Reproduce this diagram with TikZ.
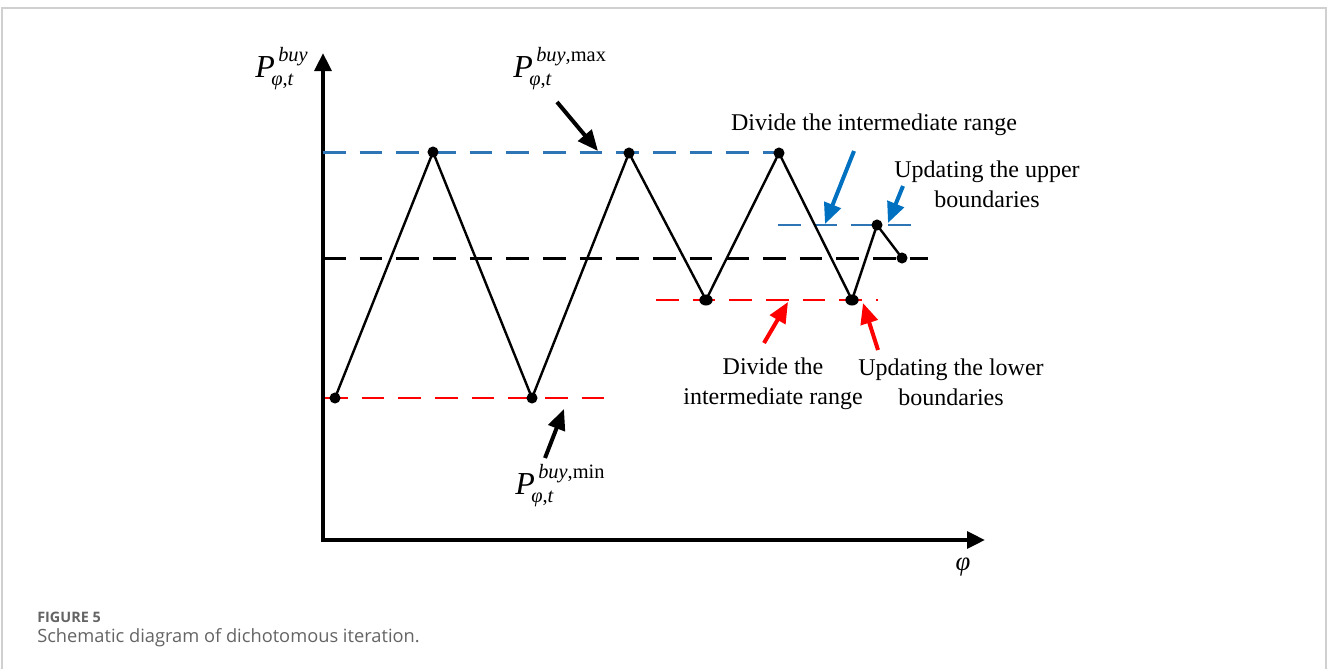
\documentclass[tikz,border=0pt]{standalone}
\usepackage{fontspec}
\setmainfont{Liberation Serif}
\newfontfamily\capfont{Open Sans}
\usetikzlibrary{arrows.meta,shapes.geometric}
\definecolor{dblue}{RGB}{46,117,182}
\definecolor{ablue}{RGB}{0,112,192}
\definecolor{capgray}{RGB}{100,100,100}
\definecolor{framegray}{RGB}{208,208,208}
\newcommand\mkPlab[1]{\textit{P}\rlap{\hspace{2.6pt}\raisebox{11.6pt}{\fontsize{15.3}{16}\selectfont #1}}\hspace{-2.6pt}\raisebox{-6pt}{\fontsize{15.3}{16}\selectfont\textit{φ},\textit{t}}}
\begin{document}
\begin{tikzpicture}[x=0.75pt,y=-0.75pt,
  dot/.style={circle,fill=black,inner sep=0pt,minimum size=8.3pt},
  odot/.style={ellipse,fill=black,inner sep=0pt,minimum width=10pt,minimum height=8.3pt},
  zig/.style={line width=1.8pt,line join=miter},
  axisline/.style={line width=3pt,{Triangle[length=13.5pt,width=12.5pt]}-{Triangle[length=13.5pt,width=12.5pt]}},
  guide/.style={line width=2pt,dash pattern=on 17pt off 10.5pt},
  ptr/.style={line width=3pt,-{Triangle[length=15.5pt,width=13pt]}},
  lab/.style={font=\fontsize{18}{22.5}\selectfont,align=center,inner sep=0pt},
  mlab/.style={font=\fontsize{24}{28}\selectfont,inner sep=0pt}]
\useasboundingbox (0,0) rectangle (1328,668);
% frame
\draw[framegray,line width=1.5pt] (2,700) -- (2,7.5) -- (1326,7.5) -- (1326,700);
% axes
\coordinate (o) at (323,540);
\coordinate (ytip) at (323,53);
\coordinate (xtip) at (985,540);
\draw[axisline] (ytip) -- (o) -- (xtip);
% guide lines
\coordinate (bt1) at (323,152.5); \coordinate (bt2) at (779,152.5);
\coordinate (km1) at (323,258.5); \coordinate (km2) at (928,258.5);
\coordinate (rb1) at (325,398); \coordinate (rb2) at (608,398);
\coordinate (rm1) at (656,300); \coordinate (rm2) at (878,300);
\coordinate (bs1) at (778,225); \coordinate (bs2) at (916,225);
\draw[guide,dblue] (bt1) -- (bt2);
\draw[guide,black] (km1) -- (km2);
\draw[guide,red] (rb1) -- (rb2);
\draw[guide,red] (rm1) -- (rm2);
\draw[guide,dblue] (bs1) -- (bs2);
% zigzag
\coordinate (c1) at (335,398);
\coordinate (c2) at (433,152);
\coordinate (c3) at (532,398);
\coordinate (c4) at (629,153);
\coordinate (c5) at (706,300);
\coordinate (c6) at (779,153);
\coordinate (c7) at (852,300);
\coordinate (c8) at (877,225);
\coordinate (c9) at (902,258);
\draw[zig] (c1) -- (c2) -- (c3) -- (c4) -- (c5) -- (c6) -- (c7) -- (c8) -- (c9);
\foreach \i in {1,2,3,4,6,8,9} \node[dot] (p\i) at (c\i) {};
\node[odot] (p5) at (c5) {};
\node[odot] (p7) at (c7) {};
% labels
\node[mlab,anchor=base west] (lY) at (255,77) {\mkPlab{\textit{buy}}};
\node[mlab,anchor=base west] (lMax) at (513,77) {\mkPlab{\textit{buy},max}};
\node[mlab,anchor=base west] (lMin) at (515,494) {\mkPlab{\textit{buy},min}};
\node[font=\fontsize{20}{24}\selectfont\itshape,inner sep=0pt] (lX) at (963,567) {φ};
\node[lab,anchor=base] (tDiv) at (874,130) {Divide the intermediate range};
\node[lab] (tUp) at (987,184) {Updating the upper\\boundaries};
\node[lab] (tDivL) at (773,384) {Divide the\\intermediate range};
\node[lab] (tLow) at (951,382) {Updating the lower\\boundaries};
% pointer arrows
\coordinate (a1s) at (557,102); \coordinate (a1t) at (598,151);
\coordinate (a2s) at (545,458); \coordinate (a2t) at (564,409);
\coordinate (a3s) at (854,151); \coordinate (a3t) at (825,224);
\coordinate (a4s) at (903,186); \coordinate (a4t) at (888,223);
\coordinate (a5s) at (764,343); \coordinate (a5t) at (788,302);
\coordinate (a6s) at (878,350); \coordinate (a6t) at (863,303);
\draw[ptr,black] (a1s) -- (a1t);
\draw[ptr,black] (a2s) -- (a2t);
\draw[ptr,ablue] (a3s) -- (a3t);
\draw[ptr,ablue] (a4s) -- (a4t);
\draw[ptr,red] (a5s) -- (a5t);
\draw[ptr,red] (a6s) -- (a6t);
% caption
\node[anchor=base west,inner sep=0pt,text=capgray,font=\capfont\bfseries\fontsize{10.8}{12}\selectfont] (cap1) at (37,622) {FIGURE 5};
\node[anchor=base west,inner sep=0pt,text=capgray,font=\capfont\fontsize{13.7}{16}\selectfont] (cap2) at (37,642) {Schematic diagram of dichotomous iteration.};
\end{tikzpicture}
\end{document}
